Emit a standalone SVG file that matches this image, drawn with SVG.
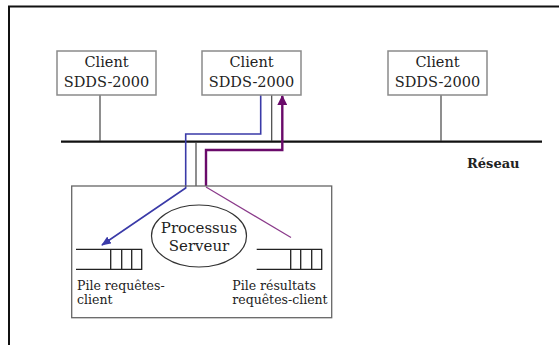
<svg xmlns="http://www.w3.org/2000/svg" width="559" height="345" viewBox="0 0 559 345">
<style>
.box{fill:#fff;stroke:#8a8a8a;stroke-width:1.5}
.t{font-family:"DejaVu Serif","Liberation Serif",serif;font-size:14.5px;fill:#222;text-anchor:middle}
.lbl{font-family:"DejaVu Serif","Liberation Serif",serif;font-size:12.5px;fill:#222}
.ln{stroke:#444;stroke-width:1.2;fill:none}
.q{stroke:#222;stroke-width:1.3;fill:none}
</style>
<defs>
<marker id="ab" markerWidth="10" markerHeight="8" refX="9" refY="4" orient="auto" markerUnits="userSpaceOnUse"><path d="M0,0 L10,4 L0,8 Z" fill="#3a3aa8"/></marker>
<marker id="ap" markerWidth="10" markerHeight="10" refX="9" refY="5" orient="auto" markerUnits="userSpaceOnUse"><path d="M0,0 L10,5 L0,10 Z" fill="#6a0a6a"/></marker>
</defs>
<rect width="559" height="345" fill="#fff"/>
<path d="M9,345 V6.5 H559" fill="none" stroke="#111" stroke-width="2"/>
<g id="connectors">
<line x1="61" y1="141.7" x2="542" y2="141.7" stroke="#111" stroke-width="2.2"/>
<line class="ln" x1="100" y1="95" x2="100" y2="141"/>
<line class="ln" x1="441" y1="95" x2="441" y2="141"/>
<line class="ln" x1="271.7" y1="95" x2="271.7" y2="141"/>
<line class="ln" x1="196" y1="142" x2="196" y2="186"/>
<path d="M260.7,95 V134 H185.7 V188 L102,245" fill="none" stroke="#3a3aa8" stroke-width="1.6" marker-end="url(#ab)"/>
<path d="M206,186 V150 H282.3 V96" fill="none" stroke="#6a0a6a" stroke-width="2.4" marker-end="url(#ap)"/>
<line x1="206" y1="187" x2="291" y2="237.5" stroke="#8a3a8a" stroke-width="1.2"/>
</g>
<g id="client1"><rect class="box" x="57" y="51" width="99" height="44"/><text class="t" x="106.5" y="67">Client</text><text class="t" x="106.5" y="87">SDDS-2000</text></g>
<g id="client2"><rect class="box" x="202" y="51" width="99" height="44"/><text class="t" x="251.5" y="67">Client</text><text class="t" x="251.5" y="87">SDDS-2000</text></g>
<g id="client3"><rect class="box" x="388" y="51" width="99" height="44"/><text class="t" x="437.5" y="67">Client</text><text class="t" x="437.5" y="87">SDDS-2000</text></g>
<text x="467" y="168" font-family="DejaVu Serif,Liberation Serif,serif" font-size="13" font-weight="bold" fill="#222">Réseau</text>
<g id="server">
<rect x="71.7" y="186" width="260" height="131.7" fill="none" stroke="#666" stroke-width="1.3"/>
<g id="processus"><ellipse cx="199" cy="236" rx="47.5" ry="31" fill="#fff" stroke="#333" stroke-width="1.2"/>
<text class="t" x="199" y="233" style="font-size:15px">Processus</text><text class="t" x="199" y="251" style="font-size:15px">Serveur</text></g>
<g id="pile1"><path class="q" d="M76,249.3 H141.7 V269.3 H76 M110.7,249.3 V269.3 M121.7,249.3 V269.3 M131.7,249.3 V269.3"/>
<text class="lbl" x="77" y="290">Pile requêtes-</text><text class="lbl" x="77" y="304">client</text></g>
<g id="pile2"><path class="q" d="M256.7,249.3 H321.7 V269.3 H256.7 M290.7,249.3 V269.3 M300.7,249.3 V269.3 M311.7,249.3 V269.3"/>
<text class="lbl" x="232.3" y="290">Pile résultats</text><text class="lbl" x="232.3" y="304">requêtes-client</text></g>
</g>
</svg>
